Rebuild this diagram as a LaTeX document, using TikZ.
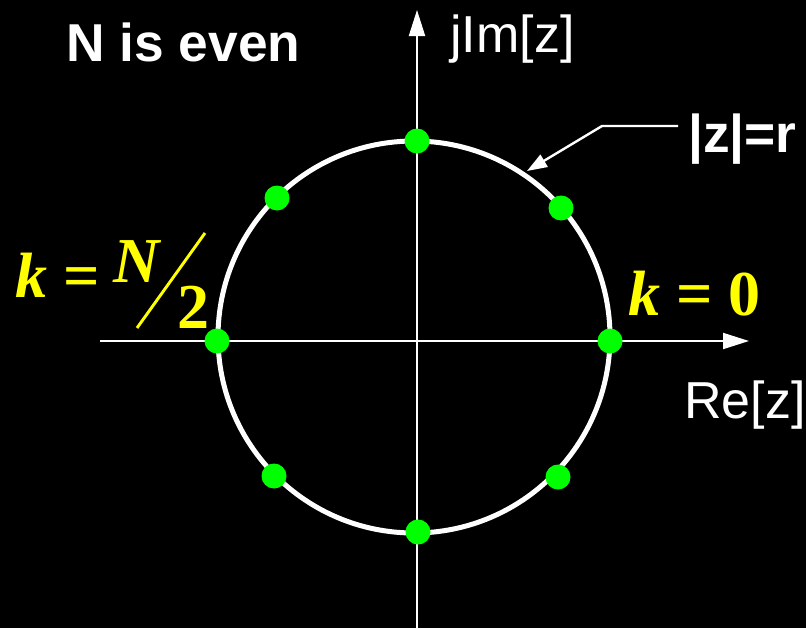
\documentclass[tikz,border=0pt]{standalone}
\usepackage{fontspec}
\setsansfont{Liberation Sans}
\newfontfamily\timesfont{Liberation Serif}
\usetikzlibrary{arrows.meta,positioning}
\definecolor{dotgreen}{RGB}{0,255,0}
\definecolor{lblyellow}{RGB}{255,255,0}
\tikzset{
  axis/.style={draw=white,line width=1.5pt,-{Triangle[length=19.5pt,width=12pt]}},
  ring/.style={draw=white,line width=3.75pt},
  zdot/.style={circle,fill=dotgreen,minimum size=18.75pt,inner sep=0pt},
  callout/.style={draw=white,line width=1.8pt,-{Triangle[length=15pt,width=10.5pt]}},
  title/.style={text=white,inner sep=0pt,anchor=base west,
    font=\sffamily\bfseries\fontsize{40}{48}\selectfont},
  axlbl/.style={text=white,inner sep=0pt,anchor=base west,
    font=\sffamily\fontsize{39}{46}\selectfont},
  klbl/.style={text=lblyellow,inner sep=0pt,anchor=base west,
    font=\timesfont\bfseries\fontsize{48}{56}\selectfont},
}
\begin{document}
\begin{tikzpicture}[x=0.75pt,y=-0.75pt]
  \fill[black] (0,0) rectangle (806,628);
  \useasboundingbox (0,0) rectangle (806,628);
  \coordinate (o) at (414,337);
  \coordinate (reL) at (100,341);
  \coordinate (reR) at (749,341);
  \coordinate (imB) at (417,628);
  \coordinate (imT) at (417,10);
  \draw[axis] (reL) -- (reR);
  \draw[axis] (imB) -- (imT);
  \draw[ring] (o) circle [radius=196];
  \foreach \name/\pos in {p0/{(610,341)},p1/{(561,208)},p2/{(417,141)},
      p3/{(277,198)},p4/{(217,341)},p5/{(274,476)},p6/{(418,532)},p7/{(558,477)}}
    \node[zdot] (\name) at \pos {};
  \node[title] (even) at (66,61) {N is even};
  \node[axlbl] (imlbl) at (450,52) {jIm[z]};
  \node[axlbl] (relbl) at (684,418) {Re[z]};
  \node[title] (zr) at (688,152) {|z|=r};
  \coordinate (zrfoot) at (678,126);
  \coordinate (zrbend) at (602,126);
  \coordinate (zrtip) at (527,171);
  \draw[callout] (zrfoot) -- (zrbend) -- (zrtip);
  \node[klbl] (kzero) at (628,315) {\itshape k\upshape\ = 0};
  \node[klbl] (khalf) at (15,297) {\itshape k\upshape\ =};
  \node[klbl] (knum) at (113,282) {\itshape N};
  \node[klbl] (kden) at (177,328) {2};
  \coordinate (slashT) at (205,233);
  \coordinate (slashB) at (137,328);
  \draw[lblyellow,line width=2.2pt] (slashT) -- (slashB);
\end{tikzpicture}
\end{document}
